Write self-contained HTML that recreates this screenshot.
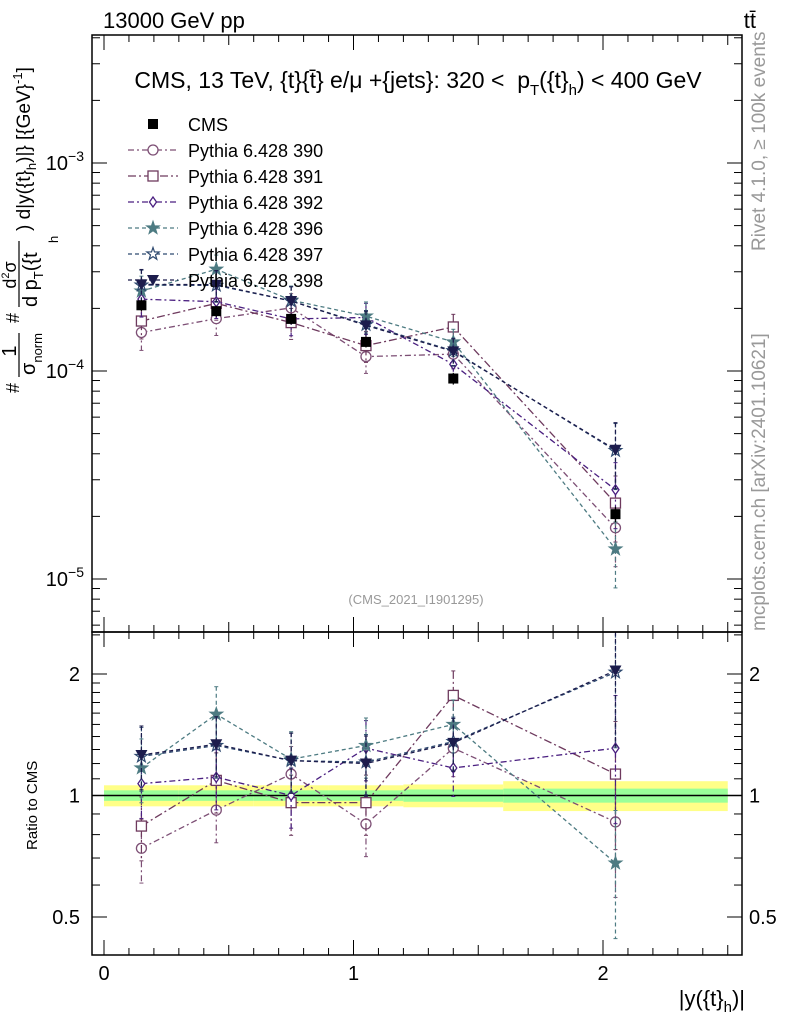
<!DOCTYPE html>
<html><head><meta charset="utf-8"><style>
body{margin:0;background:#fff;}
svg text{font-family:"Liberation Sans",sans-serif;}
</style></head><body>
<svg id="c" width="786" height="1024" xmlns="http://www.w3.org/2000/svg">
<defs>
<clipPath id="cm"><rect x="92" y="35" width="650" height="597"/></clipPath>
<clipPath id="cr"><rect x="92" y="632" width="650" height="323"/></clipPath>
</defs>
<text x="103" y="28" font-size="22">13000 GeV pp</text>
<text x="756" y="28" font-size="22" text-anchor="end">tt̄</text>
<text x="418" y="88" font-size="23" text-anchor="middle" xml:space="preserve">CMS, 13 TeV, {t}{t̄} e/μ +{jets}: 320 &lt;  p<tspan font-size="15" dy="7">T</tspan><tspan dy="-7">({t}</tspan><tspan font-size="15" dy="7">h</tspan><tspan dy="-7">) &lt; 400 GeV</tspan></text>
<text x="416" y="604" font-size="13" fill="#999" text-anchor="middle">(CMS_2021_I1901295)</text>
<text transform="translate(765,251) rotate(-90)" font-size="19" fill="#999">Rivet 4.1.0, ≥ 100k events</text>
<text transform="translate(765,631) rotate(-90)" font-size="19" fill="#999">mcplots.cern.ch [arXiv:2401.10621]</text>
<g transform="translate(0,393) rotate(-90)">
<text x="0" y="19" font-size="18">#</text>
<text x="42" y="16" font-size="20" text-anchor="middle">1</text>
<line x1="16" x2="60" y1="19" y2="19" stroke="#000" stroke-width="1.2"/>
<text x="18" y="35" font-size="20">σ<tspan font-size="13" dy="7">norm</tspan></text>
<text x="70" y="19" font-size="18">#</text>
<text x="118" y="16" font-size="18" text-anchor="middle">d<tspan font-size="11" dy="-7">2</tspan><tspan dy="7">σ</tspan></text>
<line x1="86" x2="152" y1="19" y2="19" stroke="#000" stroke-width="1.2"/>
<text x="86" y="37" font-size="20">d p<tspan font-size="13" dy="6">T</tspan><tspan dy="-6">({t</tspan></text>
<text x="150" y="58" font-size="13">h</text>
<text x="162" y="30" font-size="19">) d|y({t}<tspan font-size="13" dy="6">h</tspan><tspan dy="-6">)|} [{GeV}</tspan><tspan font-size="13" dy="-8">-1</tspan><tspan dy="8">]</tspan></text>
</g>
<text transform="translate(37,850) rotate(-90)" font-size="15">Ratio to CMS</text>
<text x="745" y="1006" font-size="22" text-anchor="end">|y({t}<tspan font-size="15" dy="6">h</tspan><tspan dy="-6">)|</tspan></text>
<g id="g"></g>
</svg>
<script>
const binEdges=[0,0.3,0.6,0.9,1.2,1.6,2.5];
const xVals=[0.15,0.45,0.75,1.05,1.4,2.05];
const cmsVals=[2.07e-4,1.94e-4,1.78e-4,1.38e-4,9.2e-5,2.05e-5];
const cmsStat=[0.03,0.03,0.03,0.03,0.035,0.04];
const cmsTot=[0.06,0.06,0.06,0.06,0.065,0.085];
const names=["Pythia 6.428 390","Pythia 6.428 391","Pythia 6.428 392","Pythia 6.428 396","Pythia 6.428 397","Pythia 6.428 398"];
const r390=[0.74,0.92,1.13,0.85,1.31,0.86];
const r391=[0.84,1.09,0.96,0.96,1.77,1.13];
const r392=[1.07,1.11,1.0,1.31,1.17,1.31];
const r396=[1.17,1.59,1.23,1.33,1.50,0.68];
const r397=[1.25,1.33,1.22,1.21,1.36,2.02];
const r398=[1.26,1.34,1.22,1.20,1.35,2.04];
const errRel=[0.18,0.17,0.17,0.17,0.15,0.35];
const ratios=[r390,r391,r392,r396,r397,r398];
const colors=["#7d4f75","#6e3a5e","#4a1f80","#4d7b82","#2f4a70","#1c1c4c"];
const dashes=["6,3,2,3","8,3,2,3","6,3,2,3","4,3","4,3","4,3"];
const markers=["circle","square","diamond","star","starOpen","tri"];

const NS="http://www.w3.org/2000/svg",G=document.getElementById('g');
function el(t,a,p){const e=document.createElementNS(NS,t);for(const k in a)e.setAttribute(k,a[k]);(p||G).appendChild(e);return e;}
const RX=742;
const X=v=>104+v*249.5;
const YM=v=>163-(Math.log10(v)+3)*208;
const YR=r=>795.5-Math.log2(r)*121.5;

const band=el('g',{'clip-path':'url(#cr)'});

binEdges.slice(0,-1).forEach((b,i)=>{
  const x1=X(b),x2=X(binEdges[i+1]);
  el('rect',{x:x1,y:YR(1+cmsTot[i]),width:x2-x1,height:YR(1-cmsTot[i])-YR(1+cmsTot[i]),fill:'#ffff88'},band);
  el('rect',{x:x1,y:YR(1+cmsStat[i]),width:x2-x1,height:YR(1-cmsStat[i])-YR(1+cmsStat[i]),fill:'#99ff99'},band);
});
el('line',{x1:92,x2:RX,y1:YR(1),y2:YR(1),stroke:'#000','stroke-width':1.5},band);

function marker(type,x,y,c,p){
  const s=5;
  if(type=='circle')return el('circle',{cx:x,cy:y,r:s,fill:'#fff',stroke:c,'stroke-width':1.3},p);
  if(type=='square')return el('rect',{x:x-s,y:y-s,width:2*s,height:2*s,fill:'#fff',stroke:c,'stroke-width':1.3},p);
  if(type=='diamond')return el('path',{d:`M${x},${y-5}L${x+3.5},${y}L${x},${y+5}L${x-3.5},${y}Z`,fill:'#fff',stroke:c,'stroke-width':1.3},p);
  if(type=='cms')return el('rect',{x:x-5,y:y-5,width:10,height:10,fill:'#000'},p);
  if(type=='tri')return el('path',{d:`M${x-6},${y-5}L${x+6},${y-5}L${x},${y+6}Z`,fill:c},p);
  let d='';for(let k=0;k<10;k++){const a=-Math.PI/2+k*Math.PI/5,r=k%2?2.6:6.5;d+=(k?'L':'M')+(x+r*Math.cos(a)).toFixed(1)+','+(y+r*Math.sin(a)).toFixed(1);}
  return el('path',{d:d+'Z',fill:type=='star'?c:'#fff',stroke:c,'stroke-width':1.2},p);
}
function series(i,Yf,vals,clip){
  const g=el('g',{'clip-path':clip});
  
  
  const pts=vals.map((v,j)=>X(xVals[j])+','+Yf(v)).join(' ');
  el('polyline',{points:pts,fill:'none',stroke:colors[i],'stroke-width':1.3,'stroke-dasharray':dashes[i]},g);
  vals.forEach((v,j)=>{
    const x=X(xVals[j]),y1=Yf(v*(1+errRel[j])),y2=Yf(v*(1-errRel[j]));
    el('line',{x1:x,x2:x,y1:y1,y2:y2,stroke:colors[i],'stroke-width':1.2,'stroke-dasharray':dashes[i]},g);
    el('line',{x1:x-2,x2:x+2,y1:y1,y2:y1,stroke:colors[i]},g);
    el('line',{x1:x-2,x2:x+2,y1:y2,y2:y2,stroke:colors[i]},g);
    const m=marker(markers[i],x,Yf(v),colors[i],g);
    
  });
}
ratios.forEach((r,i)=>{
  series(i,YM,r.map((v,j)=>v*cmsVals[j]),'url(#cm)');
  series(i,YR,r,'url(#cr)');
});
const cg=el('g',{'clip-path':'url(#cm)'});

cmsVals.forEach((v,j)=>{
  const x=X(xVals[j]);
  el('line',{x1:x,x2:x,y1:YM(v*(1+cmsTot[j])),y2:YM(v*(1-cmsTot[j])),stroke:'#000','stroke-width':1.2},cg);
  const m=marker('cms',x,YM(v),'#000',cg);
  
});

const fm=el('rect',{x:92,y:35,width:RX-92,height:597,fill:'none',stroke:'#000','stroke-width':1.5});

const fr=el('rect',{x:92,y:632,width:RX-92,height:323,fill:'none',stroke:'#000','stroke-width':1.5});


for(let e=-6;e<=-2;e++)for(let m=1;m<10;m++){
  const y=YM(m*Math.pow(10,e));if(y<35||y>632)continue;
  const L=m==1?15:8;
  el('line',{x1:92,x2:92+L,y1:y,y2:y,stroke:'#000'});el('line',{x1:RX,x2:RX-L,y1:y,y2:y,stroke:'#000'});
  if(m==1){const t=el('text',{x:84,y:y+7,'font-size':20,'text-anchor':'end'});t.innerHTML='10<tspan font-size="14" dy="-9">'+(e==-3?'−3':e==-4?'−4':'−5')+'</tspan>';
  }
}
[0.4,0.5,0.6,0.7,0.8,0.9,1,1.1,1.2,1.3,1.4,1.5,1.6,1.7,1.8,1.9,2,2.5].forEach(r=>{
  const y=YR(r);if(y<632||y>955)return;const big=[0.5,1,2].includes(r);const L=big?15:8;
  el('line',{x1:92,x2:92+L,y1:y,y2:y,stroke:'#000'});el('line',{x1:RX,x2:RX-L,y1:y,y2:y,stroke:'#000'});
  if(big){const s=String(r);
    const a=el('text',{x:80,y:y+7,'font-size':20,'text-anchor':'end'});a.textContent=s;
    
    const b=el('text',{x:749,y:y+7,'font-size':20});b.textContent=s;
    }
});
for(let k=0;k<=26;k++){const v=k/10,x=X(v);if(x>RX)continue;const big=k%10==0,L=big?15:k%5==0?10:7;
  el('line',{x1:x,x2:x,y1:632,y2:632-L,stroke:'#000'});el('line',{x1:x,x2:x,y1:35,y2:35+L,stroke:'#000'});
  el('line',{x1:x,x2:x,y1:955,y2:955-L,stroke:'#000'});el('line',{x1:x,x2:x,y1:632,y2:632+L,stroke:'#000'});
  if(big){const t=el('text',{x:x,y:980,'font-size':20,'text-anchor':'middle'});t.textContent=String(v);
  }
}
const lg=el('g',{});
marker('cms',153,124,'#000',lg);
const t0=el('text',{x:188,y:131,'font-size':18},lg);t0.textContent='CMS';
names.forEach((n,i)=>{const y=150+i*26;
  el('line',{x1:128,x2:178,y1:y,y2:y,stroke:colors[i],'stroke-width':1.3,'stroke-dasharray':dashes[i]},lg);
  marker(markers[i],153,y,colors[i],lg);
  const t=el('text',{x:188,y:y+7,'font-size':18},lg);t.textContent=n;
  
});
</script>
</body></html>
